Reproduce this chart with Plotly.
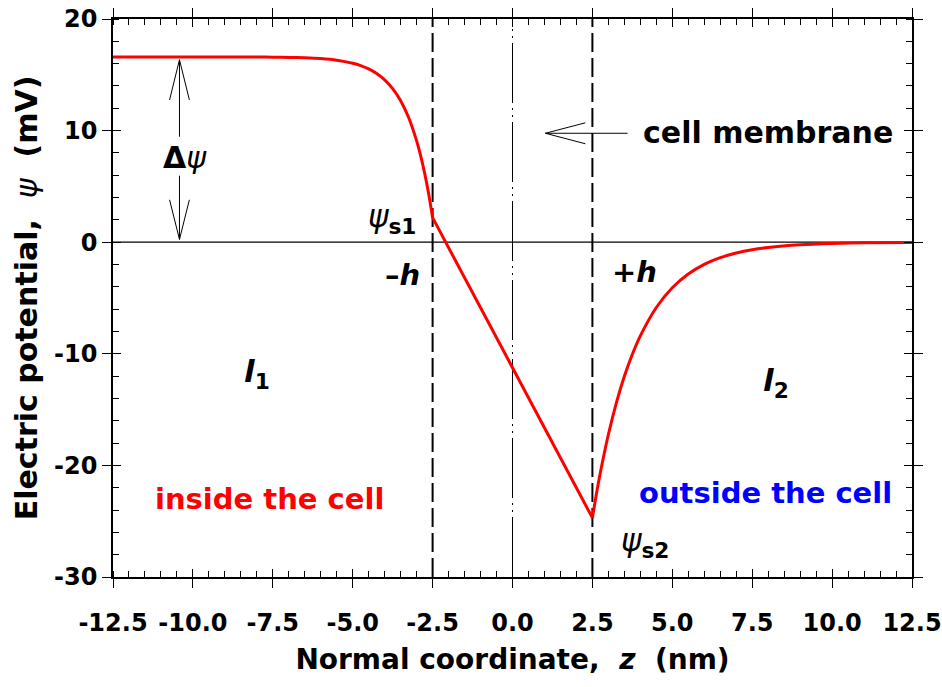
import plotly.graph_objects as go

# ---------------- data ----------------
z_inside = [-12.5, -11.0, -10.0, -9.0, -8.0, -7.5, -7.0, -6.5, -6.0, -5.5, -5.0, -4.75,
            -4.5, -4.25, -4.0, -3.75, -3.5, -3.25, -3.0, -2.875, -2.75, -2.625, -2.5]
psi_inside = [16.60, 16.60, 16.60, 16.60, 16.59, 16.58, 16.56, 16.52, 16.45, 16.31, 16.04, 15.83,
              15.53, 15.12, 14.55, 13.76, 12.68, 11.17, 9.08, 7.76, 6.20, 4.36, 2.2]

z_membrane = [-2.5, 2.5]
psi_membrane = [2.2, -24.7]

z_outside = [2.5, 2.625, 2.75, 3.0, 3.25, 3.5, 3.75, 4.0, 4.5, 5.0, 5.5, 6.0, 6.5, 7.0,
             7.5, 8.0, 9.0, 10.0, 11.0, 12.5]
psi_outside = [-24.7, -22.57, -20.63, -17.23, -14.39, -12.02, -10.04, -8.39, -5.85, -4.08,
               -2.85, -1.99, -1.39, -0.97, -0.67, -0.47, -0.23, -0.11, -0.05, -0.02]

membrane_edges = [-2.5, 2.5]
membrane_center = 0.0

x_tickvals = [-12.5, -10.0, -7.5, -5.0, -2.5, 0.0, 2.5, 5.0, 7.5, 10.0, 12.5]
x_ticktext = ["-12.5", "-10.0", "-7.5", "-5.0", "-2.5", "0.0", "2.5", "5.0", "7.5", "10.0", "12.5"]
y_tickvals = [-30, -20, -10, 0, 10, 20]
y_ticktext = ["-30", "-20", "-10", "0", "10", "20"]

X_RANGE = [-12.5, 12.5]
Y_RANGE = [-30, 20]

FONT = "DejaVu Sans"

# ---------------- figure ----------------
fig = go.Figure()
red = dict(color="#ff0000", width=3)
fig.add_trace(go.Scatter(x=z_inside, y=psi_inside, mode="lines", line=dict(shape="spline", smoothing=0.8, **red),
                         hoverinfo="skip", showlegend=False))
fig.add_trace(go.Scatter(x=z_membrane, y=psi_membrane, mode="lines", line=red,
                         hoverinfo="skip", showlegend=False))
fig.add_trace(go.Scatter(x=z_outside, y=psi_outside, mode="lines", line=dict(shape="spline", smoothing=0.8, **red),
                         hoverinfo="skip", showlegend=False))
# invisible trace for the overlay axes (inside part of the crossing major ticks)
fig.add_trace(go.Scatter(x=[0], y=[0], xaxis="x2", yaxis="y2", mode="markers",
                         marker=dict(opacity=0), hoverinfo="skip", showlegend=False))

# reference lines
fig.add_shape(type="line", x0=X_RANGE[0], x1=X_RANGE[1], y0=0, y1=0,
              line=dict(color="black", width=1.3), layer="below")
for xe in membrane_edges:
    fig.add_shape(type="line", x0=xe, x1=xe, y0=Y_RANGE[0], y1=Y_RANGE[1],
                  line=dict(color="black", width=2, dash="19px,6px"), layer="below")
fig.add_shape(type="line", x0=membrane_center, x1=membrane_center, y0=Y_RANGE[0], y1=Y_RANGE[1],
              line=dict(color="black", width=1, dash="60px,5px,2px,5px,2px,5px"), layer="below")

# arrows (open V heads)
thin = dict(color="black", width=1)
ax_ = -10.42
fig.add_shape(type="line", x0=ax_, x1=ax_, y0=9.45, y1=16.35, line=thin)
fig.add_shape(type="path", path=f"M {ax_-0.31},12.75 L {ax_},16.35 L {ax_+0.31},12.75", line=thin)
fig.add_shape(type="line", x0=ax_, x1=ax_, y0=5.96, y1=0.25, line=thin)
fig.add_shape(type="path", path=f"M {ax_-0.31},3.8 L {ax_},0.25 L {ax_+0.31},3.8", line=thin)
fig.add_shape(type="line", x0=1.03, x1=3.6, y0=9.76, y1=9.76, line=thin)
fig.add_shape(type="path", path="M 2.28,10.7 L 1.03,9.76 L 2.28,8.82", line=thin)

def ann(x, y, text, size, color="black"):
    fig.add_annotation(x=x, y=y, text=text, showarrow=False, xanchor="center", yanchor="middle",
                       font=dict(family=FONT, size=size, color=color))

ann(-10.24, 7.55, "<b>Δ</b><i>ψ</i>", 30)
ann(-3.76, 2.1, "<i>ψ</i><sub><b>s1</b></sub>", 31)
ann(-3.45, -2.9, "<b>–<i>h</i></b>", 29)
ann(3.81, -2.7, "<b>+<i>h</i></b>", 29)
ann(-8.01, -11.8, "<b><i>l</i></b><sub><b>1</b></sub>", 31)
ann(8.25, -12.6, "<b><i>l</i></b><sub><b>2</b></sub>", 31)
ann(-7.61, -23.0, "<b>inside the cell</b>", 29, "#ff0000")
ann(7.93, -22.45, "<b>outside the cell</b>", 29, "#0000ff")
ann(4.16, -26.9, "<i>ψ</i><sub><b>s2</b></sub>", 31)
ann(8.0, 9.8, "<b>cell membrane</b>", 30)

common = dict(showgrid=False, zeroline=False, showline=True, linecolor="black", linewidth=1.5,
              mirror="ticks", ticks="outside", ticklen=9, tickwidth=1, tickcolor="black")

fig.update_layout(
    width=942, height=687,
    margin=dict(l=113, r=30, t=19, b=110, autoexpand=False),
    paper_bgcolor="white", plot_bgcolor="white",
    font=dict(family=FONT, color="black"),
    xaxis=dict(range=X_RANGE, tickvals=x_tickvals, ticktext=x_ticktext,
               tickfont=dict(family=FONT, size=24, weight="bold"), ticklabelstandoff=14,
               minor=dict(dtick=0.5, tick0=-12.5, ticks="inside", ticklen=6, tickwidth=1,
                          tickcolor="black"),
               title=dict(text="<b>Normal coordinate,  </b><i><b>z</b></i><b>  (nm)</b>",
                          font=dict(family=FONT, size=28), standoff=14),
               **common),
    yaxis=dict(range=Y_RANGE, tickvals=y_tickvals, ticktext=y_ticktext,
               tickfont=dict(family=FONT, size=24, weight="bold"),
               minor=dict(dtick=2, tick0=-30, ticks="inside", ticklen=6, tickwidth=1,
                          tickcolor="black"),
               title=dict(text="<b>Electric potential,  </b><i>ψ</i><b>  (mV)</b>",
                          font=dict(family=FONT, size=30), standoff=8),
               **common),
    xaxis2=dict(range=X_RANGE, overlaying="x", anchor="y2", tickvals=x_tickvals,
                showticklabels=False, ticks="inside", ticklen=8, tickwidth=1, tickcolor="black",
                mirror="ticks", showline=False, showgrid=False, zeroline=False),
    yaxis2=dict(range=Y_RANGE, overlaying="y", anchor="x2", tickvals=y_tickvals,
                showticklabels=False, ticks="inside", ticklen=8, tickwidth=1, tickcolor="black",
                mirror="ticks", showline=False, showgrid=False, zeroline=False),
)

fig.write_html("out.html")
